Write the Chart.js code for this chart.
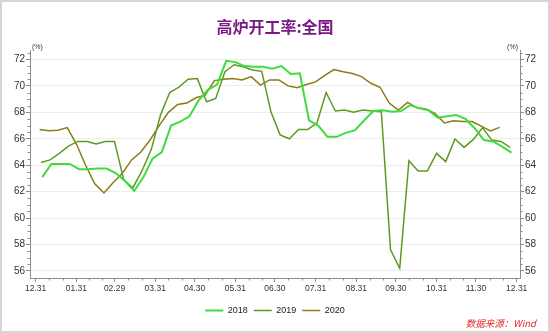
<!DOCTYPE html>
<html>
<head>
<meta charset="utf-8">
<script src="https://cdn.jsdelivr.net/npm/chart.js@4.4.0/dist/chart.umd.min.js"></script>
<style>
  html, body { margin: 0; padding: 0; background: #fff; }
  #wrap { position: relative; width: 550px; height: 333px; }
  #frame { position: absolute; left: 0; top: 0; width: 550px; height: 333px; box-sizing: border-box; border: 2px solid #d6d6d6; pointer-events: none; }
  #source { position: absolute; right: 14px; top: 316px; font: italic 9.5px "Noto Sans CJK SC", sans-serif; color: #e02727; }
</style>
</head>
<body>
<div id="wrap">
  <canvas id="chart" width="550" height="333"></canvas>
  <div id="frame"></div>
  <div id="source">数据来源：Wind</div>
</div>
<script>
// x axis: days counted from 12.31 of the previous year
const monthDays = [0, 31, 60, 91, 121, 152, 182, 213, 244, 274, 305, 335, 366];
const monthLabels = ["12.31", "01.31", "02.29", "03.31", "04.30", "05.31", "06.30",
                     "07.31", "08.31", "09.30", "10.31", "11.30", "12.31"];
const yTicks = [56, 58, 60, 62, 64, 66, 68, 70, 72];

// weekly readings (%), first reading day of each year
const years = ["2018", "2019", "2020"];
const firstDay = [5, 4, 3];
const v2018 = [63.1, 64.1, 64.1, 64.1, 63.7, 63.7, 63.75, 63.75, 63.4, 62.8,
               62.05, 63.1, 64.5, 65.0, 67.0, 67.3, 67.7, 68.9, 69.7, 70.1,
               71.9, 71.8, 71.5, 71.45, 71.45, 71.3, 71.5, 70.9, 70.95, 67.4,
               67.0, 66.15, 66.15, 66.45, 66.65, 67.4, 68.1, 68.15, 68.05, 68.1,
               68.55, 68.3, 68.15, 67.6, 67.7, 67.8, 67.5, 66.8, 65.9, 65.8,
               65.4, 64.95];
const v2019 = [64.2, 64.4, 64.9, 65.45, 65.8, 65.8, 65.6, 65.8, 65.8, 62.9,
               62.3, 63.6, 65.2, 67.8, 69.5, 69.9, 70.5, 70.55, 68.8, 69.05,
               71.07, 71.6, 71.45, 71.2, 71.1, 68.05, 66.3, 66.0, 66.7, 66.7,
               67.2, 69.5, 68.1, 68.17, 68.0, 68.17, 68.1, 68.05, 57.6, 56.2,
               64.34, 63.56, 63.56, 64.9, 64.27, 65.98, 65.35, 65.95, 66.84, 65.9,
               65.8, 65.35];
const v2020 = [66.7, 66.6, 66.65, 66.85, 65.6, 64.0, 62.6, 61.9, 62.7, 63.4,
               64.4, 65.0, 65.9, 67.0, 68.0, 68.6, 68.7, 69.1, 69.3, 70.4,
               70.5, 70.55, 70.45, 70.7, 70.06, 70.45, 70.45, 70.0, 69.86, 70.1,
               70.3, 70.8, 71.24, 71.07, 70.94, 70.7, 70.2, 69.9, 68.7, 68.17,
               68.75, 68.35, 68.25, 67.9, 67.2, 67.37, 67.3, 67.3, 66.96, 66.6,
               66.86];

const colors = ["#3fdc3f", "#5e9a22", "#8a7c14"];
const widths = [2, 1.5, 1.5];

function weekly(vals, start) {
  return vals.map((v, i) => ({ x: start + 7 * i, y: v }));
}

const axisGray = "#8c8c8c";
const numFont = "'Liberation Sans', Arial, sans-serif";

// short ticks between the labelled ones, and the (%) marks
const extras = {
  id: "extras",
  afterDraw(chart) {
    const { ctx, chartArea, scales } = chart;
    const { x, y } = scales;
    ctx.save();
    ctx.strokeStyle = axisGray;
    ctx.lineWidth = 1;
    ctx.beginPath();
    for (let v = 56.5; v <= 72.5; v += 0.5) {
      if (v % 2 === 0) continue;
      const py = Math.round(y.getPixelForValue(v)) + 0.5;
      ctx.moveTo(chartArea.left - 2.5, py); ctx.lineTo(chartArea.left, py);
      ctx.moveTo(chartArea.right, py); ctx.lineTo(chartArea.right + 2.5, py);
    }
    for (let i = 0; i < monthDays.length - 1; i++) {
      const a = monthDays[i], b = monthDays[i + 1];
      [1, 2].forEach(k => {
        const px = Math.round(x.getPixelForValue(a + (b - a) * k / 3)) + 0.5;
        ctx.moveTo(px, chartArea.bottom); ctx.lineTo(px, chartArea.bottom + 2.5);
      });
    }
    ctx.stroke();
    ctx.fillStyle = "#333";
    ctx.font = "7px " + numFont;
    ctx.textBaseline = "alphabetic";
    ctx.textAlign = "left";
    ctx.fillText("(%)", chartArea.left + 2, chartArea.top - 1);
    ctx.textAlign = "right";
    ctx.fillText("(%)", chartArea.right - 2, chartArea.top - 1);
    ctx.restore();
  }
};

new Chart(document.getElementById("chart"), {
  type: "line",
  data: {
    datasets: [v2018, v2019, v2020].map((vals, i) => ({
      label: years[i],
      data: weekly(vals, firstDay[i]),
      borderColor: colors[i],
      backgroundColor: colors[i],
      borderWidth: widths[i],
      pointRadius: 0,
      tension: 0
    }))
  },
  options: {
    responsive: false,
    animation: false,
    devicePixelRatio: 1,
    layout: { padding: { left: 0, right: 0, top: 0, bottom: 8 } },
    plugins: {
      title: {
        display: true,
        text: "高炉开工率:全国",
        color: "#7a1886",
        font: { family: "'Noto Sans CJK SC', sans-serif", size: 16, weight: "bold" },
        padding: { top: 17, bottom: 14 }
      },
      legend: {
        position: "bottom",
        labels: {
          usePointStyle: true,
          pointStyle: "line",
          pointStyleWidth: 18,
          padding: 6,
          color: "#222",
          font: { family: numFont, size: 9 }
        }
      },
      tooltip: { enabled: false }
    },
    scales: {
      x: {
        type: "linear",
        min: -4.3,
        max: 368.5,
        afterBuildTicks: s => { s.ticks = monthDays.map(v => ({ value: v })); },
        afterFit: s => { s.height = 22; },
        ticks: {
          autoSkip: false,
          maxRotation: 0,
          padding: 2,
          color: "#333",
          font: { family: numFont, size: 8.5 },
          callback: (v, i) => monthLabels[i]
        },
        grid: { display: true, drawOnChartArea: false, tickLength: 4, tickColor: axisGray },
        border: { color: axisGray }
      },
      y: {
        position: "left",
        min: 55.47,
        max: 72.7,
        afterBuildTicks: s => { s.ticks = yTicks.map(v => ({ value: v })); },
        afterFit: s => { s.width = 30; },
        ticks: { padding: 1, color: "#333", font: { family: numFont, size: 10 } },
        grid: { color: "#ececec", tickColor: axisGray, tickLength: 4 },
        border: { color: axisGray }
      },
      y2: {
        position: "right",
        min: 55.47,
        max: 72.7,
        afterBuildTicks: s => { s.ticks = yTicks.map(v => ({ value: v })); },
        afterFit: s => { s.width = 30; },
        ticks: { padding: 1, color: "#333", font: { family: numFont, size: 10 } },
        grid: { drawOnChartArea: false, tickColor: axisGray, tickLength: 4 },
        border: { color: axisGray }
      }
    }
  },
  plugins: [extras]
});
</script>
</body>
</html>
